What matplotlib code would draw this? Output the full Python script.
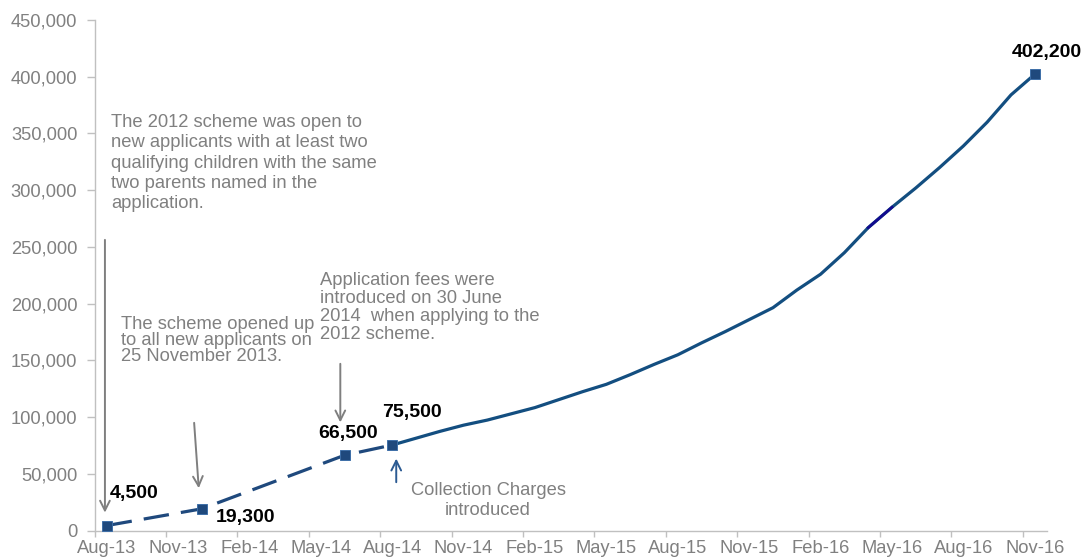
from matplotlib import pyplot as plt
from matplotlib.ticker import FuncFormatter
import pandas as pd

plt.rcParams['font.family'] = ['Liberation Sans', 'DejaVu Sans']

# Eje de meses (Aug-13 .. Nov-16)
MESES = list(pd.date_range('2013-08-01', '2016-11-01', freq='MS').strftime('%b-%y'))
ETIQUETAS_X = MESES[::3]

# Tramo discontinuo: puntos publicados antes de Aug-14
MESES_INICIO = ['Aug-13', 'Dec-13', 'Jun-14', 'Aug-14']
VALORES_INICIO = [4500, 19300, 66500, 75500]

# Tramo continuo: mensual desde Aug-14
MESES_FIN = MESES[12:]
VALORES_FIN = [75500, 81500, 87500, 93000, 97500, 103000, 108500, 115500,
               122500, 129000, 137500, 146500, 155000, 165500, 175500, 186000,
               196500, 212000, 226000, 245000, 267000, 285000, 302000, 320000,
               339000, 360000, 384000, 402200]

ETIQUETAS_PUNTOS = {'Aug-13': 4500, 'Dec-13': 19300, 'Jun-14': 66500,
                    'Aug-14': 75500, 'Nov-16': 402200}

AZUL_LINEA = '#134E80'
AZUL_MARCA = '#1F497D'
GRIS = '#808080'
GRIS_EJE = '#C0C0C0'
TAM = 13.2

pos = {m: i for i, m in enumerate(MESES)}

fig = plt.figure(figsize=(10.86, 5.6), dpi=100)
ax = fig.add_axes([0.0872, 0.0523, 0.8766, 0.912])

x_ini = [pos[m] for m in MESES_INICIO]
x_fin = [pos[m] for m in MESES_FIN]

ax.plot(x_ini, VALORES_INICIO, color=AZUL_MARCA, lw=2.3, dashes=(8, 3.8),
        solid_capstyle='butt', zorder=3)
ax.plot(x_fin, VALORES_FIN, color=AZUL_LINEA, lw=2.3, zorder=3,
        solid_joinstyle='round')
# pequeño tramo más oscuro que aparece en el original
ax.plot(x_fin[20:22], VALORES_FIN[20:22], color='#120A8F', lw=2.0, zorder=4)

# marcas cuadradas en los puntos etiquetados
for mes, val in ETIQUETAS_PUNTOS.items():
    ax.plot([pos[mes]], [val], 's', ms=7.2, mfc=AZUL_MARCA, mec='#3E6FA8',
            mew=0.7, zorder=5)

# etiquetas de valores (desplazamiento en pixeles)
DESPLAZ = {'Aug-13': (3, 28, 'left'), 'Dec-13': (14, -13, 'left'),
           'Jun-14': (3, 17, 'center'), 'Aug-14': (20, 28, 'center'),
           'Nov-16': (12, 17, 'center')}
for mes, val in ETIQUETAS_PUNTOS.items():
    dx, dy, ha = DESPLAZ[mes]
    ax.annotate(f'{val:,}', (pos[mes], val), xytext=(dx, dy),
                textcoords='offset pixels', ha=ha, va='baseline',
                fontsize=14, fontweight='bold', color='black', zorder=6)

# notas explicativas
ax.text(0.18, 367000, 'The 2012 scheme was open to\nnew applicants with at least two\n'
        'qualifying children with the same\ntwo parents named in the\napplication.',
        fontsize=TAM, color=GRIS, va='top', ha='left', linespacing=1.25)
ax.text(0.59, 189000, 'The scheme opened up\nto all new applicants on\n25 November 2013.',
        fontsize=TAM, color=GRIS, va='top', ha='left', linespacing=0.93)
ax.text(8.96, 228000, 'Application fees were\nintroduced on 30 June\n'
        '2014  when applying to the\n2012 scheme.',
        fontsize=TAM, color=GRIS, va='top', ha='left', linespacing=1.07)
ax.text(16.03, 43000, 'Collection Charges\nintroduced',
        fontsize=TAM, color=GRIS, va='top', ha='center', linespacing=1.2)

# flechas
flecha_gris = dict(arrowstyle='->,head_length=0.7,head_width=0.35', color='#7F7F7F', lw=1.4)
ax.annotate('', xy=(-0.07, 13500), xytext=(-0.07, 258700), arrowprops=flecha_gris)
ax.annotate('', xy=(3.88, 35000), xytext=(3.67, 97500), arrowprops=flecha_gris)
ax.annotate('', xy=(9.82, 93000), xytext=(9.82, 149500), arrowprops=flecha_gris)
flecha_azul = dict(arrowstyle='->,head_length=0.7,head_width=0.35', color='#2B5A92', lw=1.4)
ax.annotate('', xy=(12.17, 66000), xytext=(12.17, 40300), arrowprops=flecha_azul)

# ejes
ax.set_xlim(-0.5, len(MESES) - 0.5)
ax.set_ylim(0, 450000)
ax.set_xticks(range(0, len(MESES), 3))
ax.set_xticklabels(ETIQUETAS_X)
ax.set_xticks([i - 0.5 for i in range(0, len(MESES), 3)], minor=True)
ax.tick_params(axis='x', which='major', length=0, pad=7, labelsize=TAM, labelcolor=GRIS)
ax.tick_params(axis='x', which='minor', length=4.5, color=GRIS_EJE, width=1)
ax.set_yticks(range(0, 450001, 50000))
ax.yaxis.set_major_formatter(FuncFormatter(lambda v, p: f'{int(v):,}'))
ax.tick_params(axis='y', length=5.5, color=GRIS_EJE, width=1, pad=7,
               labelsize=TAM, labelcolor=GRIS)

for lado in ['top', 'right']:
    ax.spines[lado].set_visible(False)
for lado in ['left', 'bottom']:
    ax.spines[lado].set_color(GRIS_EJE)
    ax.spines[lado].set_linewidth(1)

fig.savefig('out.png', dpi=100)
